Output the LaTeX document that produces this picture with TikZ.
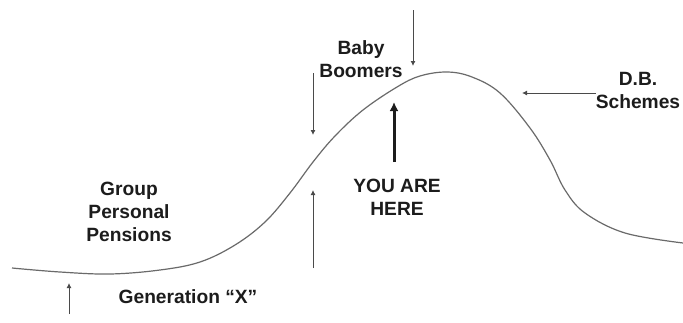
\documentclass[tikz,border=0pt]{standalone}
\usepackage{fontspec}
\setmainfont{Liberation Sans}
\usetikzlibrary{arrows.meta}
\definecolor{Curve}{HTML}{6A6A6A}
\definecolor{Thin}{HTML}{4A4A4A}
\definecolor{Ink}{HTML}{1C1C1C}
\tikzset{
  arr/.style={-{Latex[length=5pt,width=5pt]},line width=0.9pt,draw=Thin},
  bigarr/.style={-{Latex[length=9pt,width=9pt]},line width=3pt,draw=Ink},
  lbl/.style={font=\bfseries\fontsize{19.2}{23}\selectfont,text=Ink,align=center,inner sep=0pt},
  curvestyle/.style={draw=Curve,line width=1.2pt}
}
\begin{document}
\begin{tikzpicture}[x=1pt,y=-1pt]
  \useasboundingbox[fill=white] (0,0) rectangle (683,322);
  % the wave
  \draw[curvestyle] plot[smooth,tension=0.6] coordinates {(12,268) (60,272) (110,274) (160,270) (200,262) (235,245) (265,222) (290,193) (313,162) (335,136) (363,110) (397,87) (420,76) (447,72) (472,77) (500,93) (530,128) (550,160) (565,190) (585,213) (625,233) (683,243)};
  % labels (base = last line)
  \node[lbl,anchor=base] (boomers) at (361,77) {Baby\\Boomers};
  \node[lbl,anchor=base] (here) at (397,215) {YOU ARE\\HERE};
  \node[lbl,anchor=base] (db) at (638,108) {D.B.\\Schemes};
  \node[lbl,anchor=base] (gpp) at (129,241) {Group\\Personal\\Pensions};
  \node[lbl,anchor=base] (genx) at (188,303) {Generation “X”};
  % arrow ends
  \coordinate (topA) at (413,10);  \coordinate (topB) at (413,66);
  \coordinate (boomA) at (313,73); \coordinate (boomB) at (313,135);
  \coordinate (riseA) at (313,268); \coordinate (riseB) at (313,190);
  \coordinate (hereA) at (394,162); \coordinate (hereB) at (394,102);
  \coordinate (dbB) at (522,93);
  \coordinate (genA) at (69,314);  \coordinate (genB) at (69,283);
  \draw[arr] (topA)--(topB);
  \draw[arr] (boomA)--(boomB);
  \draw[arr] (riseA)--(riseB);
  \draw[bigarr] (hereA)--(hereB);
  \draw[arr] (db.west |- dbB)--(dbB);
  \draw[arr] (genA)--(genB);
\end{tikzpicture}
\end{document}
